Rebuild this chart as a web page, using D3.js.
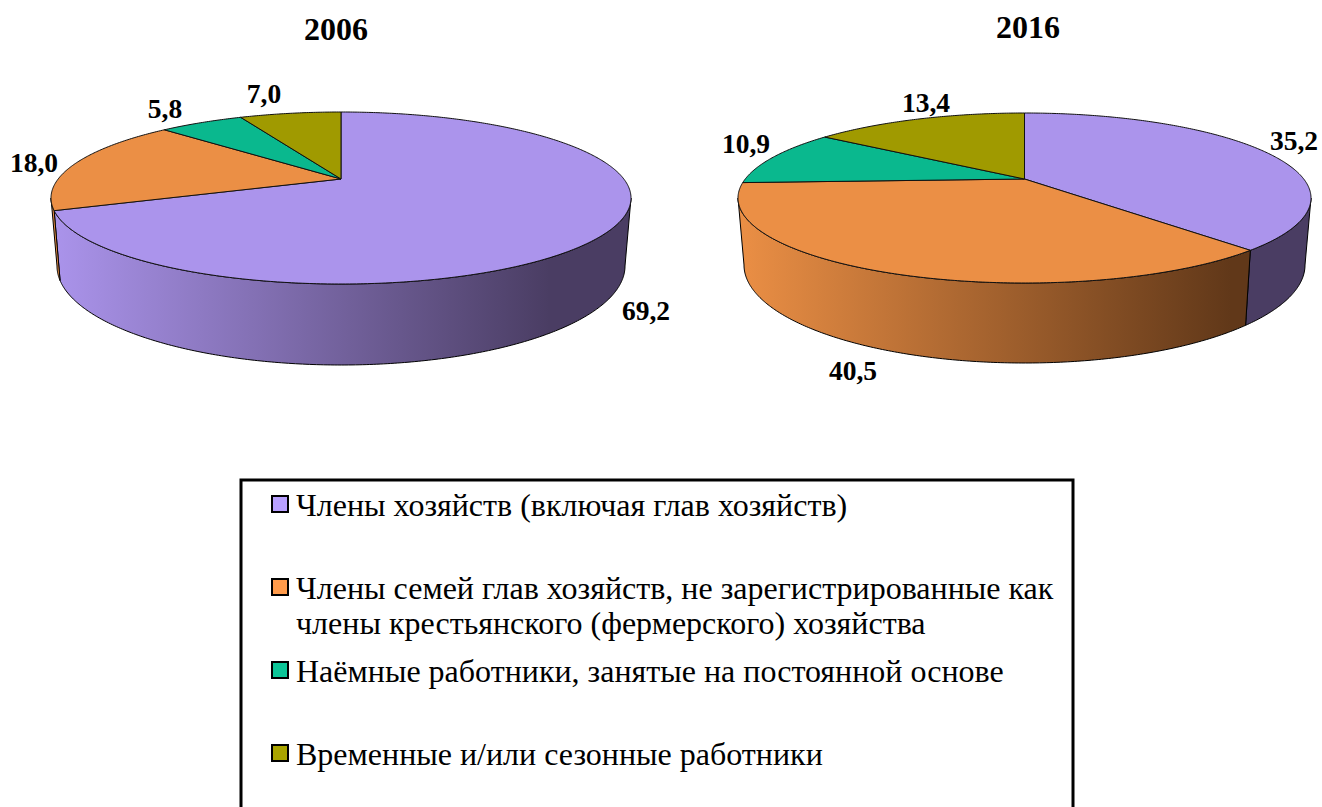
<!DOCTYPE html>
<html><head><meta charset="utf-8">
<script src="https://cdn.jsdelivr.net/npm/d3@7"></script>
<style>html,body{margin:0;padding:0;background:#fff;overflow:hidden}svg{display:block}
text{font-family:"Liberation Serif","Times New Roman",serif;fill:#000}</style></head><body>
<svg id="c" width="1322" height="807"></svg>
<script>
const categories = ["Члены хозяйств (включая глав хозяйств)",
  "Члены семей глав хозяйств, не зарегистрированные как|члены крестьянского (фермерского) хозяйства",
  "Наёмные работники, занятые на постоянной основе",
  "Временные и/или сезонные работники"];
const years = ["2006", "2016"];
// printed data labels
const values2006 = [69.2, 18.0, 5.8, 7.0];
const values2016 = [35.2, 40.5, 10.9, 13.4];
// slice sizes as actually drawn in the picture (2016 slices differ a little from their printed labels)
const drawn2006 = [69.2, 18.0, 5.8, 7.0];
const drawn2016 = [38.2, 36.1, 10.7, 15.0];
const topColors = ["#AB94EC", "#EB8F45", "#0AB88E", "#A09A00"];
const darkColors = ["#4A3D63", "#613819", "#04503C", "#464300"];
const swatchColors = ["#B8A0FF", "#FF9B4B", "#0CC698", "#AAA500"];

const pieLayout = [
  {x:[51,631], y:[284,112], lowX:[57,625], lowY:[365,167], apexY:179, title:[336,40],
   labels:[[34,172],[165,118],[264,103]], bigLabel:[646,320]},
  {x:[738,1311], y:[283,113], lowX:[744,1305], lowY:[363,167], apexY:179, title:[1028,38],
   labels:[[853,380],[746,153],[926,112]], bigLabel:[1294,150]}
];
const series = [{v:values2006,d:drawn2006},{v:values2016,d:drawn2016}];
const fmt = v => d3.format(".1f")(v).replace(".", ",");
const svg = d3.select("#c");
const defs = svg.append("defs");
const line = d3.line();

series.forEach((s, i) => {
  const L = pieLayout[i];
  const X = d3.scaleLinear().domain([-1,1]).range(L.x);
  const Y = d3.scaleLinear().domain([-1,1]).range(L.y);
  const X2 = d3.scaleLinear().domain([-1,1]).range(L.lowX);
  const Y2 = d3.scaleLinear().domain([-1,1]).range(L.lowY);
  const a = Y.invert(L.apexY);
  const proj = t => { const u=Math.sin(t), v=Math.cos(t), w=1+a*v;
    return [u*Math.sqrt(1-a*a)/w, (v+a)/w]; };
  const arcs = d3.pie().sort(null)(s.d);
  const samples = (t0,t1) => { const n=Math.max(2,Math.ceil((t1-t0)/0.01));
    return d3.range(n+1).map(k => proj(t0+(t1-t0)*k/n)); };

  topColors.forEach((c,k) => {
    const g = defs.append("linearGradient").attr("id",`g${i}${k}`)
      .attr("gradientUnits","userSpaceOnUse")
      .attr("x1",X(-1)).attr("x2",X(0.72)).attr("y1",0).attr("y2",0);
    g.append("stop").attr("offset",0).attr("stop-color",c);
    g.append("stop").attr("offset",1).attr("stop-color",darkColors[k]);
  });

  const tR = Math.acos(-a), tL = 2*Math.PI - tR;
  const root = svg.append("g");
  arcs.forEach((d,k) => {
    const s0=Math.max(d.startAngle,tR), s1=Math.min(d.endAngle,tL);
    if (s1<=s0) return;
    const pts = samples(s0,s1);
    const poly = pts.map(p=>[X(p[0]),Y(p[1])]).concat(pts.slice().reverse().map(p=>[X2(p[0]),Y2(p[1])]));
    root.append("path").attr("d",line(poly)+"Z").attr("fill",`url(#g${i}${k})`)
      .attr("stroke","#000").attr("stroke-width",1).attr("stroke-linejoin","round");
  });
  arcs.forEach((d,k) => {
    const pts = samples(d.startAngle,d.endAngle).map(p=>[X(p[0]),Y(p[1])]);
    pts.unshift([X(0),L.apexY]);
    root.append("path").attr("d",line(pts)+"Z").attr("fill",topColors[k])
      .attr("stroke","#111").attr("stroke-width",1).attr("stroke-linejoin","round");
  });
  const anchors = [L.bigLabel].concat(L.labels);
  s.v.forEach((v,k) => {
    root.append("text").attr("x",anchors[k][0]).attr("y",anchors[k][1])
      .attr("text-anchor","middle").attr("font-weight","bold").attr("font-size",27.5).text(fmt(v));
  });
  root.append("text").attr("x",L.title[0]).attr("y",L.title[1]).attr("text-anchor","middle")
    .attr("font-weight","bold").attr("font-size",32).text(years[i]);
});

// legend
svg.append("rect").attr("x",241).attr("y",480).attr("width",832).attr("height",340)
  .attr("fill","none").attr("stroke","#000").attr("stroke-width",3);
const legendY = d3.scalePoint().domain(d3.range(4)).range([504,753]);
categories.forEach((c,k) => {
  const y = legendY(k);
  svg.append("rect").attr("x",272).attr("y",y-8).attr("width",16).attr("height",16)
    .attr("fill",swatchColors[k]).attr("stroke","#000").attr("stroke-width",2);
  c.split("|").forEach((t,j) => {
    svg.append("text").attr("x",296).attr("y",y+12+j*35).attr("font-size",32).text(t);
  });
});
</script></body></html>
